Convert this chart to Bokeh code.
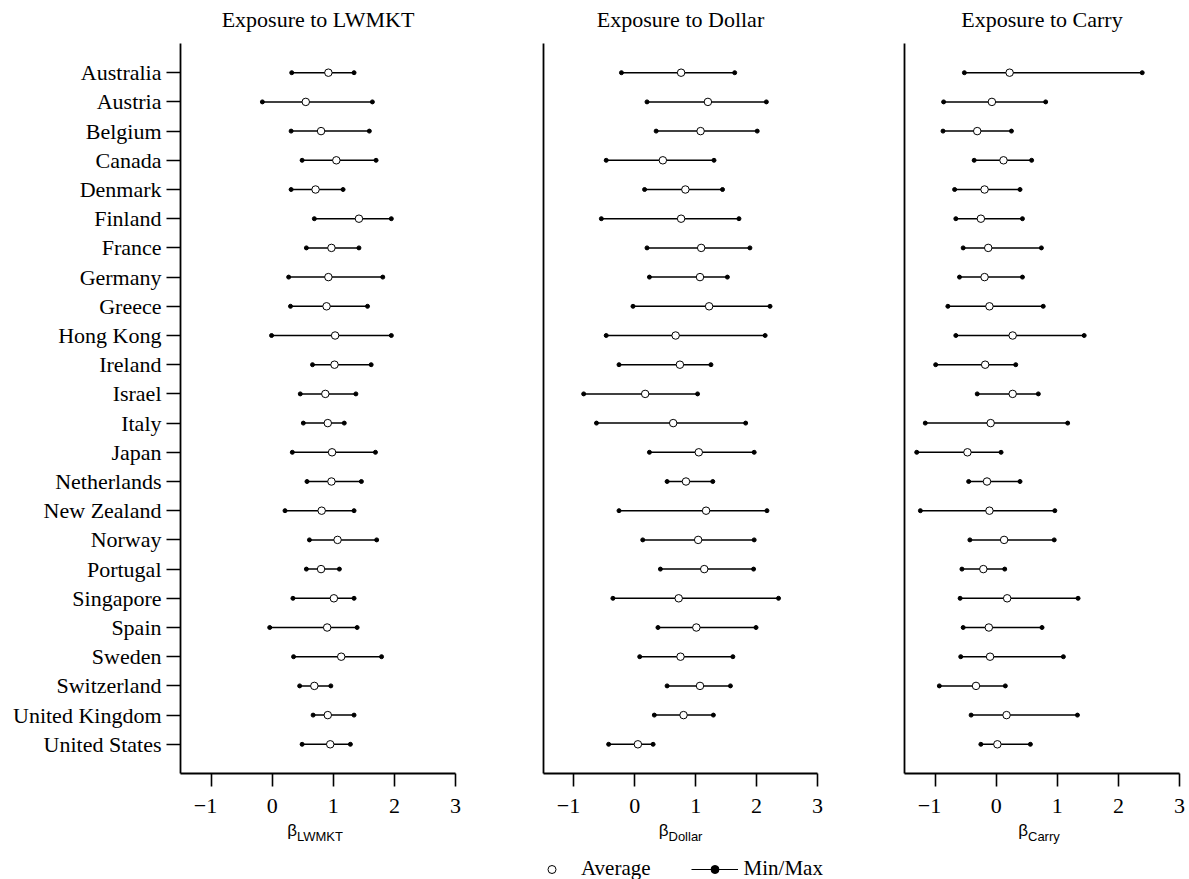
from bokeh.plotting import figure
from bokeh.layouts import row, column
from bokeh.models import (ColumnDataSource, FactorRange, Range1d, FixedTicker,
                          Label, Legend, LegendItem, LinearAxis)
from bokeh.embed import file_html
from bokeh.resources import INLINE

countries = ["Australia", "Austria", "Belgium", "Canada", "Denmark", "Finland",
             "France", "Germany", "Greece", "Hong Kong", "Ireland", "Israel",
             "Italy", "Japan", "Netherlands", "New Zealand", "Norway", "Portugal",
             "Singapore", "Spain", "Sweden", "Switzerland", "United Kingdom",
             "United States"]

lwmkt_avg = [0.92, 0.55, 0.80, 1.05, 0.71, 1.42, 0.97, 0.92, 0.89, 1.03, 1.02, 0.87,
             0.91, 0.98, 0.97, 0.81, 1.07, 0.80, 1.01, 0.90, 1.13, 0.69, 0.91, 0.95]
lwmkt_min = [0.32, -0.16, 0.31, 0.49, 0.31, 0.69, 0.56, 0.27, 0.30, -0.01, 0.66, 0.46,
             0.51, 0.33, 0.57, 0.21, 0.61, 0.56, 0.34, -0.04, 0.35, 0.45, 0.67, 0.49]
lwmkt_max = [1.34, 1.64, 1.59, 1.70, 1.16, 1.95, 1.42, 1.81, 1.56, 1.95, 1.62, 1.37,
             1.18, 1.69, 1.46, 1.34, 1.71, 1.10, 1.34, 1.39, 1.79, 0.96, 1.34, 1.28]

dollar_avg = [0.76, 1.20, 1.08, 0.46, 0.83, 0.76, 1.09, 1.07, 1.22, 0.67, 0.74, 0.17,
              0.63, 1.05, 0.84, 1.17, 1.04, 1.14, 0.72, 1.01, 0.75, 1.07, 0.80, 0.05]
dollar_min = [-0.22, 0.20, 0.35, -0.47, 0.16, -0.55, 0.20, 0.24, -0.03, -0.47, -0.26, -0.84,
              -0.63, 0.24, 0.53, -0.26, 0.13, 0.42, -0.36, 0.38, 0.08, 0.53, 0.32, -0.43]
dollar_max = [1.64, 2.16, 2.01, 1.30, 1.44, 1.71, 1.89, 1.52, 2.22, 2.14, 1.25, 1.03,
              1.82, 1.96, 1.28, 2.17, 1.96, 1.95, 2.36, 1.99, 1.61, 1.57, 1.29, 0.30]

carry_avg = [0.22, -0.07, -0.31, 0.12, -0.19, -0.25, -0.13, -0.19, -0.11, 0.27, -0.18, 0.27,
             -0.09, -0.47, -0.15, -0.11, 0.13, -0.21, 0.18, -0.12, -0.10, -0.33, 0.17, 0.02]
carry_min = [-0.52, -0.86, -0.87, -0.36, -0.68, -0.66, -0.54, -0.60, -0.79, -0.66, -0.99, -0.31,
             -1.16, -1.30, -0.45, -1.24, -0.43, -0.56, -0.59, -0.54, -0.58, -0.93, -0.41, -0.25]
carry_max = [2.39, 0.81, 0.25, 0.58, 0.39, 0.43, 0.74, 0.43, 0.77, 1.44, 0.32, 0.69,
             1.17, 0.08, 0.39, 0.96, 0.95, 0.14, 1.34, 0.75, 1.10, 0.15, 1.33, 0.56]

titles = ["Exposure to LWMKT", "Exposure to Dollar", "Exposure to Carry"]
subscripts = ["LWMKT", "Dollar", "Carry"]
legend_labels = ["Average", "Min/Max"]
x_ticks = [-1, 0, 1, 2, 3]
x_tick_labels = {-1: "\u22121\u2002"}
X_START, X_END = -1.5, 3.0

SERIF = "Liberation Serif"
SANS = "Liberation Sans"
TOP_H, FRAME_H, AXIS_H, BOTTOM_H = 43, 730, 45, 61


def make_strip(height, left, frame_w, right):
    """Blank strip whose x mapping matches the panel beneath/above it."""
    ppu = frame_w / (X_END - X_START)
    s = figure(frame_width=left + frame_w + right, frame_height=height,
               x_range=Range1d(X_START - left / ppu, X_END + right / ppu),
               y_range=Range1d(height, 0),
               output_backend="svg", toolbar_location=None,
               x_axis_location=None, y_axis_location=None, min_border=0)
    s.outline_line_color = None
    s.xgrid.visible = False
    s.ygrid.visible = False
    return s


def make_panel(mins, avgs, maxs, show_y, left, frame_w, right):
    src = ColumnDataSource(dict(country=countries, lo=mins, mid=avgs, hi=maxs))
    p = figure(frame_width=frame_w, frame_height=FRAME_H,
               x_range=Range1d(X_START, X_END),
               y_range=FactorRange(factors=countries[::-1], range_padding=0.5,
                                   range_padding_units="absolute"),
               output_backend="svg", toolbar_location=None,
               y_axis_location="left" if show_y else None,
               min_border_left=left, min_border_right=right,
               min_border_top=0, min_border_bottom=AXIS_H)
    p.outline_line_color = None
    p.xgrid.visible = False
    p.ygrid.visible = False

    p.segment(x0="lo", y0="country", x1="hi", y1="country", source=src,
              line_color="black", line_width=1.5)
    p.scatter(x="lo", y="country", source=src, size=4, color="black")
    p.scatter(x="hi", y="country", source=src, size=4, color="black")
    p.scatter(x="mid", y="country", source=src, size=7.5, fill_color="white",
              line_color="black", line_width=1)

    xa = p.xaxis[0]
    xa.ticker = FixedTicker(ticks=x_ticks)
    xa.major_label_overrides = x_tick_labels
    xa.major_tick_out = 13
    xa.major_tick_in = 0
    xa.major_label_text_font = SERIF
    xa.major_label_text_font_size = "22px"
    xa.major_label_text_color = "black"
    xa.major_label_standoff = 6

    if show_y:
        ya = p.yaxis[0]
        ya.major_tick_out = 14
        ya.major_tick_in = 0
        ya.major_label_standoff = 5
        ya.major_label_text_font = SERIF
        ya.major_label_text_font_size = "22px"
        ya.major_label_text_color = "black"
    else:
        ya = LinearAxis(ticker=FixedTicker(ticks=[]))
        ya.major_tick_out = 0
        ya.major_tick_in = 0
        p.add_layout(ya, "left")
    for ax in (xa, ya):
        ax.axis_line_width = 1.8
        ax.axis_line_color = "black"
        ax.major_tick_line_width = 1.6
        ax.major_tick_line_color = "black" if (ax is xa or show_y) else None
        ax.minor_tick_line_color = None
    return p, src


def add_title(strip, text):
    strip.add_layout(Label(x=(X_START + X_END) / 2, y=19, text=text,
                           text_font=SERIF, text_font_size="22px",
                           text_align="center", text_baseline="middle",
                           text_color="black"))


def add_beta(strip, sub, sub_shift):
    xc = (X_START + X_END) / 2
    strip.add_layout(Label(x=xc, y=10, x_offset=sub_shift, text="\u03b2",
                           text_font=SANS, text_font_size="17px", text_align="right",
                           text_baseline="middle", text_color="black"))
    strip.add_layout(Label(x=xc, y=16, x_offset=sub_shift, text=sub,
                           text_font=SANS, text_font_size="13px", text_align="left",
                           text_baseline="middle", text_color="black"))


geom = [(180, 275, 20), (68, 274, 20), (67, 275, 10)]
shifts = [-21, -12, -14]
series = [(lwmkt_min, lwmkt_avg, lwmkt_max),
          (dollar_min, dollar_avg, dollar_max),
          (carry_min, carry_avg, carry_max)]

tops, panels, sources, bottoms = [], [], [], []
for i in range(3):
    t = make_strip(TOP_H, *geom[i])
    add_title(t, titles[i])
    p, s = make_panel(*series[i], i == 0, *geom[i])
    b = make_strip(BOTTOM_H, *geom[i])
    add_beta(b, subscripts[i], shifts[i])
    tops.append(t)
    panels.append(p)
    sources.append(s)
    bottoms.append(b)

# legend swatches: Dollar-panel data whose categorical y values do not map onto
# this strip's numeric range, so only the legend samples are drawn.
b2, s2 = bottoms[1], sources[1]
la = b2.scatter(x="mid", y="country", source=s2, size=6.5, fill_color="white",
                line_color="black", line_width=1)
ll = b2.line(x="lo", y="country", source=s2, line_color="black", line_width=1.2)
ld = b2.scatter(x="lo", y="country", source=s2, size=3, color="black")
legend = Legend(items=[LegendItem(label=legend_labels[0], renderers=[la]),
                       LegendItem(label=legend_labels[1], renderers=[ll, ld])],
                location=(53, 0), orientation="horizontal",
                border_line_color=None, background_fill_alpha=0, padding=0,
                margin=0, spacing=40, label_standoff=6, glyph_width=47,
                glyph_height=20, label_height=20,
                label_text_font=SERIF, label_text_font_size="21px",
                label_text_color="black")
b2.add_layout(legend)

layout = column(row(*tops), row(*panels), row(*bottoms))
open("out.html", "w").write(file_html(layout, INLINE))
